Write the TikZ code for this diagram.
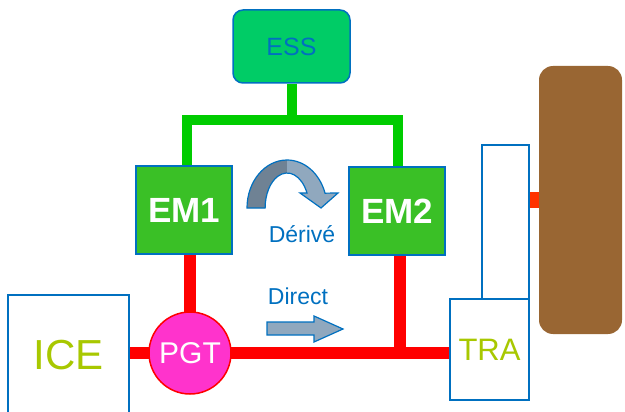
\documentclass[tikz,border=0pt]{standalone}
\usepackage{fontspec}
\setmainfont{Liberation Sans}
\usetikzlibrary{backgrounds}
\definecolor{bblue}{RGB}{0,112,192}
\definecolor{essgreen}{RGB}{0,204,102}
\definecolor{emgreen}{RGB}{58,192,38}
\definecolor{lgreen}{RGB}{0,204,0}
\definecolor{pgtpink}{RGB}{255,51,204}
\definecolor{wheelbrown}{RGB}{153,102,51}
\definecolor{icetext}{RGB}{168,200,0}
\definecolor{stubred}{RGB}{255,51,0}
\definecolor{arrdark}{RGB}{111,130,148}
\definecolor{arrlight}{RGB}{144,168,190}
\begin{document}
\begin{tikzpicture}[x=1pt,y=-1pt,
  box/.style={draw=bblue, line width=1.5pt, inner sep=0pt, anchor=center},
  essbox/.style={box, fill=essgreen, rounded corners=10pt, text=bblue,
    minimum width=117pt, minimum height=73pt, font=\fontsize{25}{25}\selectfont},
  embox/.style={box, fill=emgreen, text=white, minimum width=96pt, minimum height=88pt,
    font=\fontsize{35}{35}\selectfont\bfseries},
  whitebox/.style={box, fill=white},
  greenline/.style={draw=lgreen, line width=10pt, line join=miter},
  redline/.style={draw=red, line width=12pt},
  lbl/.style={text=bblue, font=\fontsize{23}{23}\selectfont, anchor=base, inner sep=0pt}]
\useasboundingbox (0,0) rectangle (625,412);

% nodes
\node[essbox] (ess) at (291.5,46.5) {ESS};
\node[embox] (em1) at (184,210) {EM1};
\node[embox] (em2) at (397,211) {EM2};
\node[circle, draw=red, line width=1.5pt, fill=pgtpink, minimum size=82pt, inner sep=0pt,
      text=white, font=\fontsize{30}{30}\selectfont] (pgt) at (190,353) {PGT};
\node[whitebox, minimum width=121pt, minimum height=120pt, text=icetext,
      font=\fontsize{42}{42}\selectfont] (ice) at (68.5,355) {ICE};
\node[whitebox, minimum width=47pt, minimum height=154pt] (tall) at (505.5,222) {};
\node[whitebox, minimum width=79pt, minimum height=101pt, text=icetext,
      font=\fontsize{31}{31}\selectfont] (tra) at (489.5,349.5) {TRA};
\node[fill=wheelbrown, rounded corners=14pt, minimum width=83pt, minimum height=268pt,
      inner sep=0pt] (wheel) at (580.5,200) {};

\node[lbl] (derive) at (302,242) {Dérivé};
\node[lbl] (direct) at (298,304) {Direct};

% connectors behind the boxes
\begin{scope}[on background layer]
  \draw[greenline] (ess.south) -- ++(0,36) coordinate (gj);
  \draw[greenline] ([xshift=3pt]em1.north) |- (gj) -| ([xshift=1pt]em2.north);
  \draw[redline] (pgt.center) -- (pgt.center |- em1.south);
  \draw[redline] (ice.east |- pgt.center) -- (tra.west |- pgt.center);
  \draw[redline] ([xshift=3pt]em2.south) -- ([xshift=3pt]em2.south |- pgt.center);
  \draw[draw=stubred, line width=15pt] (wheel.west) -- (wheel.west -| tall.east);
\end{scope}

% Direct arrow
\draw[draw=bblue, line width=1.2pt, fill=arrlight, line join=miter]
  (267,322) -- (314,322) -- (314,316) -- (343,329) -- (314,342) -- (314,335) -- (267,335) -- cycle;

% curved arrow (Derive)
\fill[arrdark] (247,208) arc[start angle=180, end angle=90, x radius=40pt, y radius=48pt]
  -- (287,173) arc[start angle=90, end angle=180, x radius=22pt, y radius=35pt] -- cycle;
\fill[arrlight] (287,160) arc[start angle=90, end angle=18, x radius=40pt, y radius=48pt]
  -- (338,193) -- (321,208) -- (300,193) -- (307,193)
  arc[start angle=25.4, end angle=90, x radius=22pt, y radius=35pt] -- cycle;
\draw[draw=bblue, line width=1.2pt, line join=miter]
  (247,208) arc[start angle=180, end angle=18, x radius=40pt, y radius=48pt]
  -- (338,193) -- (321,208) -- (300,193) -- (307,193)
  arc[start angle=25.4, end angle=180, x radius=22pt, y radius=35pt] -- cycle;
\end{tikzpicture}
\end{document}
